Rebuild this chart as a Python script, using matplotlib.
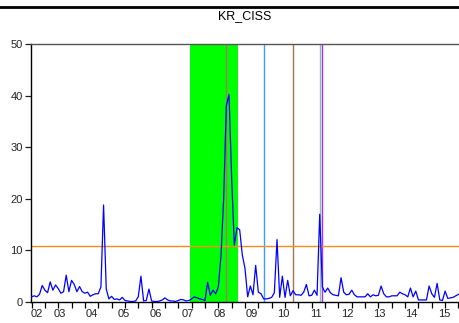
import numpy as np
import pandas as pd
import matplotlib
matplotlib.use("Agg")
import matplotlib.pyplot as plt
from matplotlib.lines import Line2D

plt.rcParams["font.family"] = ["Liberation Sans", "DejaVu Sans"]

# monthly KR_CISS, 2002-08 .. 2015-12
start = "2002-08"
kr_ciss = [
    1.0, 1.2, 1.0, 1.5, 3.2, 2.3, 1.8, 3.9, 2.3, 3.3,
    2.6, 1.7, 2.0, 5.2, 2.0, 4.2, 3.4, 2.0, 3.0, 2.0,
    1.7, 1.9, 1.1, 1.4, 1.6, 1.6, 2.9, 18.8, 2.5, 0.6,
    1.1, 0.5, 0.6, 0.4, 0.9, 0.3, 0.2, 0.1, 0.1, 0.2,
    1.0, 5.0, 0.2, 0.3, 2.5, 0.2, 0.1, 0.1, 0.2, 0.4,
    0.8, 0.4, 0.2, 0.2, 0.1, 0.3, 0.5, 0.4, 0.2, 0.3,
    0.6, 1.0, 0.8, 0.6, 0.5, 0.3, 3.8, 1.3, 2.3, 1.6,
    2.9, 9.0, 20.0, 38.0, 40.2, 24.0, 11.0, 14.4, 14.0, 9.1,
    6.5, 1.0, 3.1, 1.4, 7.1, 1.9, 1.6, 0.6, 0.6, 0.7,
    0.9, 1.8, 12.1, 0.9, 5.0, 0.9, 4.2, 1.2, 2.2, 1.4,
    1.4, 1.3, 1.9, 3.4, 1.2, 1.3, 2.3, 1.3, 17.0, 2.9,
    1.9, 2.7, 1.8, 1.4, 1.3, 1.2, 4.7, 1.9, 1.4, 1.5,
    2.3, 1.4, 1.0, 1.0, 1.0, 1.0, 1.6, 1.0, 1.4, 1.2,
    1.3, 3.1, 1.6, 1.0, 1.0, 1.2, 1.2, 1.2, 1.9, 1.6,
    1.4, 1.0, 2.7, 1.0, 2.1, 0.4, 0.4, 0.4, 0.4, 3.1,
    1.6, 0.9, 3.6, 0.4, 0.3, 2.1, 0.7, 0.8, 0.9, 1.2,
    1.5,
]
threshold = 10.9
crisis_start, crisis_end = "2007-08", "2009-01"
event_dates = ["2008-09", "2009-11", "2010-10", "2011-08", "2011-09"]
event_colors = ["#a07c58", "#3d9cff", "#a8744c", "#9ab8b8", "#9933ff"]

months = pd.period_range(start, periods=len(kr_ciss), freq="M")
k = np.arange(len(kr_ciss))
p0 = pd.Period(start, freq="M")


def pos(d):
    return (pd.Period(d, freq="M") - p0).n


fig = plt.figure(figsize=(4.59, 3.23), dpi=100)
ax = fig.add_axes([31 / 459, 21 / 323, 1 - 31 / 459, 258 / 323])

ax.axvspan(pos(crisis_start) - 0.5, pos(crisis_end) + 0.5, color="#00ff00", lw=0, zorder=1)
for d, c in zip(event_dates, event_colors):
    ax.axvline(pos(d), color=c, lw=1.0, zorder=2)
ax.axhline(threshold, color="#ff8c1a", lw=1.0, zorder=2)
ax.plot(k, kr_ciss, color="#0000ff", lw=0.9, zorder=3)

ax.set_xlim(-0.2, len(k) - 0.8)
ax.set_ylim(0, 50)
ax.set_yticks(np.arange(0, 51, 10))

years = months.year
centers = [k[years == y].mean() for y in np.unique(years)]
ax.set_xticks(centers)
ax.set_xticklabels([f"{y % 100:02d}" for y in np.unique(years)])
ax.set_xticks(np.arange(0, len(k), 5), minor=True)
ax.tick_params(axis="x", which="major", length=0, pad=5, labelsize=8, colors="#222222")
ax.tick_params(axis="x", which="minor", length=4, width=0.9, direction="out")
ax.tick_params(axis="y", length=4, width=0.9, pad=2, labelsize=8, colors="#222222")

ax.spines["right"].set_visible(False)
ax.spines["top"].set_color("#555555")
for s in ("left", "bottom", "top"):
    ax.spines[s].set_linewidth(1.0)

fig.text(245 / 459, 1 - 16 / 323, "KR_CISS", ha="center", va="center", fontsize=9)
fig.add_artist(Line2D([0, 1], [1 - 7 / 323, 1 - 7 / 323], color="black", lw=2.0,
                      transform=fig.transFigure))

fig.savefig("out.png", dpi=100)
